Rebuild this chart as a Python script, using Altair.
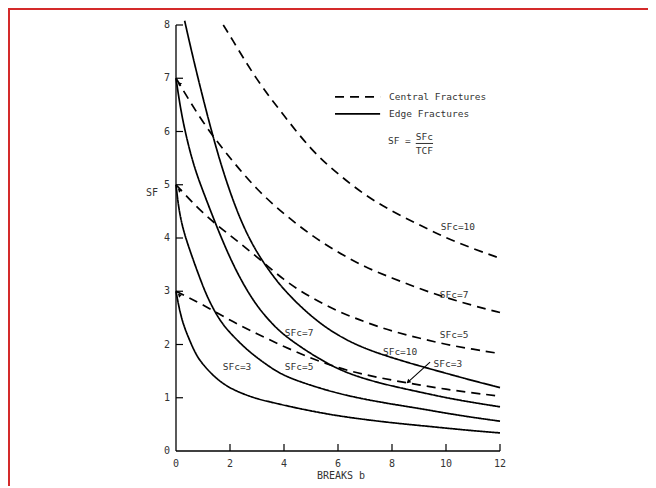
import altair as alt
import pandas as pd

# ---------------- data ----------------
# Edge fractures (solid)
B_E3 = [0, 0.1, 0.25, 0.5, 0.75, 1, 1.5, 2, 2.5, 3, 3.5, 4, 5, 6, 7, 8, 9, 10, 11, 12]
E3 = [3.0, 2.72, 2.4, 2.08, 1.8, 1.62, 1.35, 1.18, 1.07, 0.98, 0.92, 0.86, 0.75, 0.66, 0.59, 0.53, 0.48, 0.43, 0.38, 0.34]
B_E5 = [0, 0.1, 0.25, 0.5, 1, 1.25, 1.5, 1.75, 2, 2.5, 3, 3.5, 4, 5, 6, 7, 8, 9, 10, 11, 12]
E5 = [5.0, 4.55, 4.18, 3.78, 3.08, 2.8, 2.56, 2.37, 2.22, 1.96, 1.75, 1.57, 1.41, 1.23, 1.08, 0.97, 0.88, 0.8, 0.71, 0.63, 0.56]
B_E7 = [0, 0.1, 0.25, 0.5, 0.75, 1, 1.5, 2, 2.5, 3, 3.5, 4, 5, 6, 7, 8, 9, 10, 11, 12]
E7 = [7.0, 6.65, 6.2, 5.65, 5.22, 4.88, 4.22, 3.62, 3.12, 2.72, 2.42, 2.17, 1.82, 1.53, 1.35, 1.22, 1.11, 1.0, 0.91, 0.83]
B_E10 = [0.32, 0.6, 1, 1.5, 2, 2.5, 3, 3.5, 4, 5, 6, 7, 8, 9, 10, 11, 12]
E10 = [8.08, 7.45, 6.62, 5.65, 4.85, 4.2, 3.72, 3.35, 3.02, 2.52, 2.16, 1.92, 1.75, 1.6, 1.46, 1.32, 1.19]

# Central fractures (dashed)
B_C = [0, 1, 2, 3, 4, 5, 6, 7, 8, 9, 10, 11, 12]
C3 = [3.0, 2.75, 2.45, 2.2, 1.96, 1.74, 1.56, 1.43, 1.33, 1.24, 1.16, 1.09, 1.03]
C5 = [5.0, 4.45, 4.05, 3.65, 3.2, 2.88, 2.62, 2.42, 2.25, 2.12, 2.0, 1.91, 1.83]
C7 = [7.0, 6.15, 5.5, 4.9, 4.45, 4.05, 3.73, 3.45, 3.25, 3.05, 2.88, 2.73, 2.6]
B_C10 = [1.75, 2, 3, 4, 5, 6, 7, 8, 9, 10, 11, 12]
C10 = [8.0, 7.8, 6.95, 6.3, 5.65, 5.2, 4.8, 4.5, 4.25, 4.0, 3.8, 3.62]

X_TICKS = [0, 2, 4, 6, 8, 10, 12]
Y_TICKS = [0, 1, 2, 3, 4, 5, 6, 7, 8]
X_TITLE = "BREAKS b"
Y_TITLE = "SF"

# curve labels
LAB_TEXT = ["SFc=10", "SFc=7", "SFc=5", "SFc=10", "SFc=3", "SFc=7", "SFc=5", "SFc=3"]
LAB_B = [10.44, 10.3, 10.3, 8.3, 10.07, 4.56, 4.56, 2.26]
LAB_SF = [4.21, 2.93, 2.18, 1.86, 1.63, 2.22, 1.58, 1.58]

LEG_TEXT = ["Central Fractures", "Edge Fractures"]
LEG_TYPE = ["Central", "Edge"]

# ---------------- build tables ----------------
rows = []
def add(bs, vals, curve, typ):
    for b, v in zip(bs, vals):
        rows.append({"b": b, "sf": v, "curve": curve, "type": typ})

add(B_E3, E3, "E3", "Edge")
add(B_E5, E5, "E5", "Edge")
add(B_E7, E7, "E7", "Edge")
add(B_E10, E10, "E10", "Edge")
add(B_C, C3, "C3", "Central")
add(B_C, C5, "C5", "Central")
add(B_C, C7, "C7", "Central")
add(B_C10, C10, "C10", "Central")
df = pd.DataFrame(rows)

W, H = 324, 426
FONT = "DejaVu Sans Mono"
TXT = "#333333"

XS = alt.Scale(domain=[0, 12], nice=False, zero=False)
YS = alt.Scale(domain=[0, 8], nice=False, zero=False)
DASH = alt.Scale(domain=["Central", "Edge"], range=[[9, 6], [1, 0]])

def X(f):
    return alt.X(f, scale=XS, axis=None)

def Y(f):
    return alt.Y(f, scale=YS, axis=None)

one = pd.DataFrame({"k": [0]})

lines = alt.Chart(df).mark_line(color="black", strokeWidth=1.7, interpolate="basis", clip=False).encode(
    x=X("b:Q"), y=Y("sf:Q"), detail="curve:N",
    strokeDash=alt.StrokeDash("type:N", scale=DASH, legend=None),
)

# axis lines, inward ticks, labels and titles
y_dom = alt.Chart(one).mark_rule(color="black", strokeWidth=1.3).encode(
    x=alt.value(0), y=alt.value(0), y2=alt.value(H))
x_dom = alt.Chart(one).mark_rule(color="black", strokeWidth=1.3).encode(
    x=alt.value(0), x2=alt.value(W), y=alt.value(H))
yt = alt.Chart(pd.DataFrame({"t": Y_TICKS[1:]})).mark_rule(color="black", strokeWidth=1.2).encode(
    y=Y("t:Q"), x=alt.value(0), x2=alt.value(7))
xt = alt.Chart(pd.DataFrame({"t": X_TICKS[1:]})).mark_rule(color="black", strokeWidth=1.2).encode(
    x=X("t:Q"), y=alt.value(H), y2=alt.value(H - 7))
ylab = alt.Chart(pd.DataFrame({"t": Y_TICKS})).mark_text(
    font=FONT, fontSize=10, color=TXT, align="right", baseline="middle").encode(
    y=Y("t:Q"), x=alt.value(-6), text="t:Q")
xlab = alt.Chart(pd.DataFrame({"t": X_TICKS})).mark_text(
    font=FONT, fontSize=10, color=TXT, align="center", baseline="middle").encode(
    x=X("t:Q"), y=alt.value(H + 13), text="t:Q")
ytitle = alt.Chart(pd.DataFrame({"t": [Y_TITLE]})).mark_text(
    font=FONT, fontSize=10, color=TXT, align="center", baseline="middle").encode(
    x=alt.value(-24), y=alt.value(168), text="t:N")
xtitle = alt.Chart(pd.DataFrame({"t": [X_TITLE]})).mark_text(
    font=FONT, fontSize=10, color=TXT, align="center", baseline="middle").encode(
    x=alt.value(165), y=alt.value(H + 25), text="t:N")

labels = alt.Chart(pd.DataFrame({"b": LAB_B, "sf": LAB_SF, "t": LAB_TEXT})).mark_text(
    font=FONT, fontSize=9.5, color=TXT, align="center", baseline="middle").encode(
    x=X("b:Q"), y=Y("sf:Q"), text="t:N")

# arrow from the SFc=3 label to the dashed curve
arrow = alt.Chart(pd.DataFrame({"b": [9.41], "b2": [8.56], "s": [1.67], "s2": [1.28]})).mark_rule(
    color="black", strokeWidth=1.1).encode(x=X("b:Q"), x2="b2:Q", y=Y("s:Q"), y2="s2:Q")
head = alt.Chart(pd.DataFrame({"b": [8.6], "s": [1.3]})).mark_point(
    shape="triangle-up", filled=True, color="black", size=22, angle=228, opacity=1).encode(
    x=X("b:Q"), y=Y("s:Q"))

# small arrowheads at the start of the dashed curves
starts = alt.Chart(pd.DataFrame({"b": [0.12, 0.12, 0.12], "s": [6.9, 4.9, 2.93]})).mark_point(
    shape="triangle-up", filled=True, color="black", size=18, angle=315, opacity=1).encode(
    x=X("b:Q"), y=Y("s:Q"))

# legend
leg_lines = alt.Chart(pd.DataFrame({"b": [5.89, 5.89], "b2": [7.56, 7.56], "s": [6.65, 6.33],
                                     "type": LEG_TYPE})).mark_rule(color="black", strokeWidth=1.7).encode(
    x=X("b:Q"), x2="b2:Q", y=Y("s:Q"),
    strokeDash=alt.StrokeDash("type:N", scale=DASH, legend=None))
leg_text = alt.Chart(pd.DataFrame({"b": [7.89, 7.89], "s": [6.65, 6.33], "t": LEG_TEXT})).mark_text(
    font=FONT, fontSize=9.5, color=TXT, align="left", baseline="middle").encode(
    x=X("b:Q"), y=Y("s:Q"), text="t:N")

formula_left = alt.Chart(pd.DataFrame({"b": [7.85], "s": [5.82], "t": ["SF ="]})).mark_text(
    font=FONT, fontSize=9.5, color=TXT, align="left", baseline="middle").encode(
    x=X("b:Q"), y=Y("s:Q"), text="t:N")
formula_frac = alt.Chart(pd.DataFrame({"b": [9.2, 9.2], "s": [5.9, 5.64], "t": ["SFc", "TCF"]})).mark_text(
    font=FONT, fontSize=9.5, color=TXT, align="center", baseline="middle").encode(
    x=X("b:Q"), y=Y("s:Q"), text="t:N")
formula_line = alt.Chart(pd.DataFrame({"b": [8.88], "b2": [9.52], "s": [5.775]})).mark_rule(
    color=TXT, strokeWidth=1).encode(x=X("b:Q"), x2="b2:Q", y=Y("s:Q"))

# red frame of the scanned picture (outline only)
frame = alt.Chart(one).mark_rect(
    filled=False, stroke="#d42a2a", strokeWidth=2, clip=False
).encode(x=alt.value(-167), x2=alt.value(W + 300), y=alt.value(-16), y2=alt.value(H + 200))

chart = alt.layer(
    lines, y_dom, x_dom, yt, xt, ylab, xlab, ytitle, xtitle, labels, arrow, head, starts,
    leg_lines, leg_text, formula_left, formula_frac, formula_line, frame
).properties(
    width=W, height=H,
    autosize=alt.AutoSizeParams(type="none"),
    padding={"left": 168, "top": 17, "right": 148, "bottom": 35},
    background="white",
).configure_view(stroke=None)

chart.save("out.html", embed_options={"renderer": "svg", "actions": False})
